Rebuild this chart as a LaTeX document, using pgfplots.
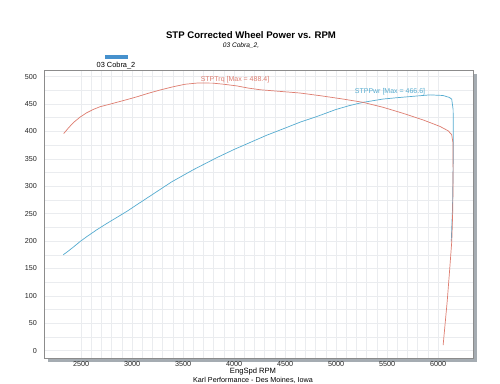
\documentclass[border=0pt]{standalone}
\usepackage{pgfplots}
\pgfplotsset{compat=1.18}
\usepackage{fontspec}
\setmainfont{Liberation Sans}
\definecolor{trq}{RGB}{222,125,112}
\definecolor{pwr}{RGB}{85,172,208}
\definecolor{frame}{RGB}{140,140,140}
\definecolor{shadow}{RGB}{165,172,178}
\definecolor{gridc}{RGB}{234,236,239}
\definecolor{legblue}{RGB}{70,145,205}
\pgfplotstableread{
rpm val
2330 396
2380 407
2425 416
2490 426
2556 434
2620 440
2686 445
2770 449
2850 453
2950 458
3046 463
3150 469
3275 475.5
3405 481.5
3520 486
3650 488.4
3794 488
3900 486
4026 483
4140 479
4255 476
4450 473
4647 470
4850 465
5069 459
5265 453
5461 444
5657 433
5853 421
6020 409
6100 401
6134 394
6146 380
6148 330
6145 260
6135 200
6115 150
6090 90
6065 40
6050 10
}\trqdata
\pgfplotstableread{
rpm val
2326 175
2370 181
2425 189
2490 199
2556 208
2650 220
2752 232
2850 243
2948 254
3078 270
3258 292
3389 308
3600 330
3830 352
4000 367
4160 380
4320 393
4500 406
4650 417
4810 427
5000 440
5130 447
5265 453
5461 459
5600 461.5
5725 463.5
5850 465.5
5922 466.6
6049 465.5
6110 462
6134 459
6148 440
6150 400
6148 330
6142 260
6130 200
}\pwrdata
\begin{document}
\begin{tikzpicture}[x=1pt,y=1pt]
\useasboundingbox (0,0) rectangle (500,383);
\fill[white] (0,0) rectangle (500,383);
% shadow
\fill[shadow] (48,21) rectangle (477,25);
\fill[shadow] (473,21) rectangle (477,309);
\begin{axis}[
  at={(44pt,25pt)}, anchor=south west,
  scale only axis, width=429pt, height=288pt,
  xmin=2137, xmax=6343, ymin=-13.3, ymax=512,
  xtick={2500,3000,...,6000}, ytick={0,50,...,500},
  minor x tick num=4, minor y tick num=1,
  grid=both,
  major grid style={draw=gridc, line width=0.5pt},
  minor grid style={draw=gridc, line width=0.4pt},
  major tick length=0pt, minor tick length=0pt,
  axis line style={draw=frame, line width=0.9pt},
  /pgf/number format/assume math mode=true,
  /pgf/number format/1000 sep={},
  ticklabel style={font=\fontsize{7.2}{8}\selectfont, text=black!85},
  yticklabel style={anchor=east, inner sep=0pt, xshift=-7pt},
  xticklabel style={anchor=north, inner sep=0pt, yshift=-3.5pt},
]
\addplot[pwr, line width=0.7pt, no markers] table[x=rpm,y=val] {\pwrdata};
\addplot[trq, line width=0.7pt, no markers] table[x=rpm,y=val] {\trqdata};
\end{axis}
\node[font=\bfseries\fontsize{9.6}{11}\selectfont] at (251,348) {STP Corrected Wheel Power vs. RPM};
\node[font=\itshape\fontsize{6.6}{8}\selectfont] at (241,337.5) {03 Cobra\_2,};
\fill[legblue] (105,324) rectangle (128,328);
\node[font=\fontsize{7.4}{9}\selectfont] at (116,317) {03 Cobra\_2};
\node[font=\fontsize{7}{8}\selectfont, text=trq] at (235,303) {STPTrq [Max = 488.4]};
\node[font=\fontsize{7}{8}\selectfont, text=pwr] at (390,291.5) {STPPwr [Max = 466.6]};
\node[font=\fontsize{7.6}{9}\selectfont] at (253,11.5) {EngSpd RPM};
\node[font=\fontsize{7.2}{8}\selectfont] at (253,3) {Karl Performance - Des Moines, Iowa};
\end{tikzpicture}
\end{document}
